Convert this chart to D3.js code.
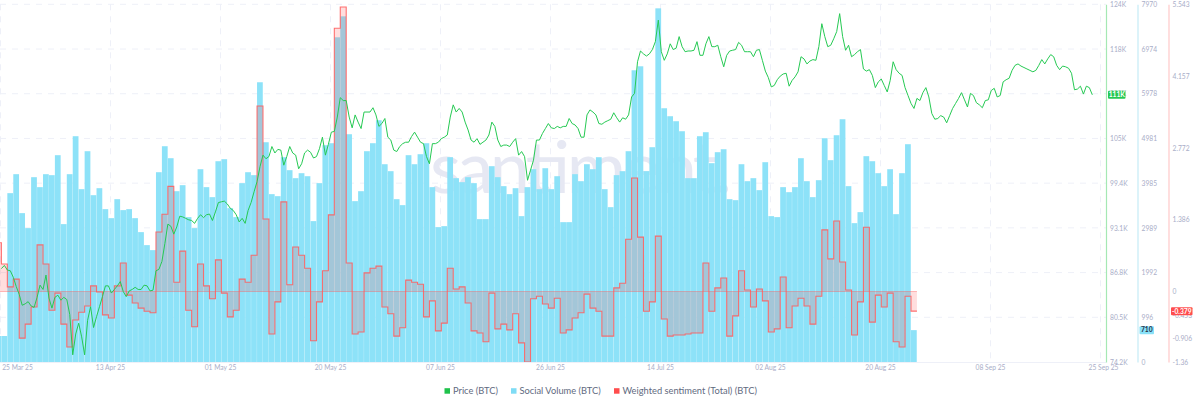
<!DOCTYPE html>
<html><head><meta charset="utf-8">
<script src="https://cdn.jsdelivr.net/npm/d3@7"></script>
<style>
html,body{margin:0;padding:0;background:#fff;overflow:hidden}
svg{display:block}
text{font-family:Lato,"Noto Sans",sans-serif}
</style></head><body>
<svg id="c" width="1200" height="406"></svg>
<script>
// Daily social volume; first element is the day before the left edge of the chart (index -1)
const socialVolume = [579,579,3762,4185,3317,2983,4118,3896,4185,4163,4608,3072,4185,5031,3851,4697,3717,3873,3406,3205,3628,3384,3406,3205,2894,2604,2493,4229,4808,4541,3806,3940,3228,2983,4296,3896,3673,4474,4519,3428,3228,3985,4229,4163,6233,4897,3740,3695,4563,4274,4096,4207,
4140,3139,3985,4830,4875,7235,7702,5075,3584,3806,4697,4875,5387,4407,4252,3628,3495,4608,4407,4630,4875,3896,3005,3027,4563,4096,4007,4118,3985,3183,3183,4363,4118,3918,3740,3873,3250,3896,4296,3851,4318,3851,4140,3116,3116,4185,4029,4407,4296,4563,
3851,3450,4163,4252,4697,6500,6589,4252,4786,7880,5654,5476,5365,5142,4096,4096,5031,5120,4430,4675,4741,3628,3606,4407,4029,4096,3829,4452,3250,3228,3896,3784,3896,4541,4029,3673,4051,4986,4497,5053,5409,3918,3094,3339,4586,4474,4207,3918,4296,3294,4207,4853,710];
// Daily weighted sentiment on the same days
const sentiment = [.94,.53,.09,.24,-.90,-.63,-.30,.90,.53,-.36,-.03,-.63,-1.07,-.55,-.40,-.28,.11,-.01,-.45,-.51,.11,.55,-.07,-.22,-.32,-.38,-.41,1.15,1.49,2.03,.18,.78,-.36,-.68,.53,.11,-.14,.61,-.03,-.49,-.36,.24,.18,.70,3.58,1.40,-.82,-.20,1.73,.13,.86,.70,
.45,-.95,-.20,.40,1.48,5.08,5.49,.55,-.82,-.78,.36,.45,.49,-.30,-.43,-.86,-.70,.22,.18,.14,-.49,-.18,-.76,-.61,.45,.05,.09,-.22,-.76,-.80,-.97,-.03,-.72,-.63,-.74,-.43,-.99,-1.36,-.14,-.09,-.24,-.32,-.13,-.80,-.74,-.51,-.41,-.05,-.32,-.38,
-.86,-.86,.07,.16,1.01,2.19,1.05,-.38,-.20,1.07,-.53,-.86,-.84,-.84,-.82,-.80,-.80,.55,-.38,.07,.26,-.86,-.47,.40,.03,-.30,.05,-.18,-.78,-.72,.28,-.70,-.28,-.13,-.28,-.63,-.09,1.19,.63,1.36,.57,.03,-.84,-.20,1.24,-.59,-.07,-.30,-.03,-.97,-1.07,-.09,-.379];
// Price in thousand USD, sampled twice a day
const price = [87.2,87.65,87.0,86.9,86.0,84.7,83.6,82.1,82.3,82.6,82.0,81.8,83.2,84.9,84.3,86.3,83.1,81.7,83.2,83.5,82.8,83.2,82.9,80.8,75.2,78.1,79.6,77.7,75.2,80.0,81.9,79.0,80.5,81.9,83.3,84.8,84.8,83.8,84.3,84.8,85.4,84.0,83.3,84.1,84.3,84.6,84.3,84.3,84.9,84.8,84.1,84.2,86.9,87.1,88.2,90.7,93.4,93.1,92.0,93.0,94.5,94.4,94.2,94.0,93.9,93.5,94.2,94.7,94.3,94.7,94.8,93.9,95.1,96.4,96.5,96.6,96.2,95.6,95.3,94.7,93.7,94.2,93.5,95.3,96.4,
97.9,99.3,101.4,103.0,102.5,102.8,104.2,103.3,103.8,103.7,101.6,102.8,104.2,103.3,103.0,
101.1,101.8,103.3,103.7,103.4,102.6,102.8,103.9,105.5,103.0,104.5,106.2,106.3,108.3,111.0,110.6,110.6,108.3,106.8,108.6,107.6,106.7,109.0,109.0,109.0,109.6,108.6,107.0,107.4,108.1,105.5,105.1,103.7,103.5,104.2,104.6,104.8,104.8,105.6,106.2,105.5,104.8,104.6,102.8,101.8,104.6,104.6,104.8,105.3,105.5,105.8,108.3,110.0,109.0,109.5,109.0,107.6,106.5,105.1,104.8,105.3,104.5,104.8,105.1,105.8,107.6,107.0,105.1,104.2,104.4,104.4,104.2,104.8,105.3,103.0,103.5,102.8,99.5,100.9,102.3,105.1,105.1,106.0,106.7,107.4,106.8,106.7,107.0,106.8,107.0,107.0,108.1,107.4,107.2,106.7,105.5,105.5,108.6,109.3,109.0,108.6,107.4,
107.3,107.6,107.8,108.0,108.9,108.2,107.6,108.2,108.0,108.6,111.1,111.6,116.0,117.5,117.1,116.8,117.1,117.7,118.8,121.8,117.4,116.2,117.1,118.5,117.7,117.9,119.5,118.1,117.4,117.5,117.5,117.6,118.8,116.9,116.9,118.5,119.5,118.1,118.1,118.3,116.7,115.3,116.9,117.5,117.6,117.7,118.7,118.3,117.4,117.4,117.4,116.7,117.6,117.7,116.2,114.7,113.8,112.5,112.7,113.5,114.0,114.3,114.4,112.6,113.4,113.9,114.6,116.7,116.4,115.7,116.1,116.3,116.2,118.1,121.3,119.5,118.1,118.3,119.2,120.2,122.7,119.5,117.6,118.3,116.7,117.0,117.4,117.7,115.0,114.7,114.9,114.1,112.4,113.2,113.6,112.7,111.8,113.4,116.0,114.9,114.4,
114.1,112.4,111.3,110.2,109.5,110.9,110.6,111.7,112.4,111.1,108.8,108.0,108.1,108.5,108.3,107.5,108.5,109.5,110.2,110.9,111.7,110.7,109.7,111.6,111.3,110.3,110.0,109.6,110.6,110.7,112.0,112.3,111.1,111.3,113.2,113.5,113.7,114.8,115.5,115.7,115.4,115.2,115.0,114.8,114.6,114.8,115.5,116.3,115.7,116.4,117.0,116.7,115.5,114.9,115.4,115.3,115.1,114.4,112.1,112.2,112.6,111.5,112.6,112.4,111.4];
const dateLabels = ["25 Mar 25","13 Apr 25","01 May 25","20 May 25","07 Jun 25","26 Jun 25","14 Jul 25","02 Aug 25","20 Aug 25","08 Sep 25","25 Sep 25"];
const priceTickLabels = ["74.2K","80.5K","86.8K","93.1K","99.4K","105K","111K","118K","124K"];
const volumeTicks = [0,996,1992,2989,3985,4981,5978,6974,7970];
const sentimentTicks = [-1.36,-0.906,-0.453,0,1.386,2.772,4.157,5.543];
const seriesNames = ["Price (BTC)","Social Volume (BTC)","Weighted sentiment (Total) (BTC)"];
const seriesColors = ["#26c953","#89e1f8","#ff5b5b"];
const lastPrice="111K", lastVolume=710, lastSentiment=-0.379;

const W=1106, TOP=4.3, BOT=362, TICKFONT=6.7;
const svg=d3.select("#c");
const xDay=d3.scaleLinear().domain([0,184]).range([1.4,1095.3]);
const xTick=d3.scalePoint().domain(dateLabels).range([0,1100]);
const yPrice=d3.scaleLinear().domain([74.2,124]).range([BOT,TOP]);
const yPriceTicks=d3.scalePoint().domain(priceTickLabels).range([BOT,TOP]);
const yVol=d3.scaleLinear().domain([0,7970]).range([BOT,TOP]);
const ySent=d3.scaleLinear().domain([-1.36,5.543]).range([BOT,TOP]);

svg.append("defs").append("clipPath").attr("id","plot").append("rect")
  .attr("x",0).attr("y",TOP-1).attr("width",W).attr("height",BOT-TOP+1);

// grid
const grid=svg.append("g").attr("stroke","#eef0f8").attr("stroke-width",1).attr("stroke-dasharray","6 6");
grid.selectAll("line.h").data(priceTickLabels.slice(1)).join("line").attr("class","h")
  .attr("x1",0).attr("x2",W).attr("y1",d=>yPriceTicks(d)).attr("y2",d=>yPriceTicks(d));
grid.selectAll("line.v").data(dateLabels).join("line").attr("class","v")
  .attr("x1",d=>xTick(d)+.5).attr("x2",d=>xTick(d)+.5).attr("y1",TOP).attr("y2",BOT);
svg.append("line").attr("x1",0).attr("x2",W).attr("y1",BOT+.5).attr("y2",BOT+.5).attr("stroke","#eef0f8");

// watermark
svg.append("text").text("santiment.").attr("x",430).attr("y",193).attr("font-size",72)
  .attr("textLength",302).attr("fill","#e6e8f3").style("font-family","Lato");

const plot=svg.append("g").attr("clip-path","url(#plot)");
// bars
plot.append("g").selectAll("rect").data(socialVolume).join("rect")
  .attr("x",(d,i)=>xDay(i-1)).attr("width",xDay(1)-xDay(0)-.2)
  .attr("y",d=>yVol(d)).attr("height",d=>BOT-yVol(d))
  .attr("fill",seriesColors[1]).attr("fill-opacity",.97);

// sentiment
const sPts=sentiment.map((v,i)=>[i-1,v]); sPts.push([sentiment.length-1,sentiment[sentiment.length-1]]);
plot.append("path").attr("d",d3.area().curve(d3.curveStepAfter).x(d=>xDay(d[0])).y0(ySent(0)).y1(d=>ySent(d[1]))(sPts))
  .attr("fill",seriesColors[2]).attr("fill-opacity",.2);
plot.append("line").attr("x1",0).attr("x2",xDay(sentiment.length-1)).attr("y1",ySent(0)).attr("y2",ySent(0))
  .attr("stroke",seriesColors[2]).attr("stroke-opacity",.4).attr("stroke-width",1);
plot.append("path").attr("d",d3.line().curve(d3.curveStepAfter).x(d=>xDay(d[0])).y(d=>ySent(d[1]))(sPts))
  .attr("fill","none").attr("stroke",seriesColors[2]).attr("stroke-opacity",.85).attr("stroke-width",1.1);

// price
plot.append("path").attr("d",d3.line().x((d,i)=>xDay(i/2)).y(d=>yPrice(d))(price))
  .attr("fill","none").attr("stroke",seriesColors[0]).attr("stroke-width",1).attr("stroke-linejoin","round");

// axes
function style(g,col,x){
  g.select(".domain").attr("stroke",col).attr("stroke-width",1.2);
  g.selectAll(".tick line").remove();
  g.selectAll(".tick text").attr("fill","#a9aec8").attr("font-size",TICKFONT).attr("x",x).style("font-family","Lato");
}
const gx=svg.append("g").attr("transform",`translate(0,${BOT})`)
  .call(d3.axisBottom(xTick).tickSize(0));
gx.select(".domain").remove();
gx.selectAll(".tick text").attr("y",3.5).attr("dy",".71em").attr("fill","#a9aec8").attr("font-size",TICKFONT);
gx.selectAll(".tick").filter(d=>d===dateLabels[0]).select("text").attr("dx",17);
gx.selectAll(".tick").filter(d=>d===dateLabels[10]).select("text").attr("dx",3);

svg.append("g").attr("transform",`translate(${W},0)`).call(d3.axisRight(yPriceTicks).tickSizeOuter(0).tickSize(0))
  .call(g=>style(g,"#a5e8b4",4));
svg.append("g").attr("transform",`translate(1137.5,0)`).call(d3.axisRight(yVol).tickValues(volumeTicks).tickFormat(d3.format("d")).tickSize(0))
  .call(g=>style(g,"#c5ebf6",4));
svg.append("g").attr("transform",`translate(1168.5,0)`).call(d3.axisRight(ySent).tickValues(sentimentTicks).tickFormat(d=>d===0?"0":String(d)).tickSize(0))
  .call(g=>style(g,"#ffc9c9",4));

// value badges
function badge(x,y,w,h,fill,txt,col){
  svg.append("rect").attr("x",x).attr("y",y-h/2).attr("width",w).attr("height",h).attr("rx",1).attr("fill",fill);
  svg.append("text").attr("x",x+w/2).attr("y",y).attr("dy",".35em").attr("text-anchor","middle")
    .attr("font-size",TICKFONT).attr("font-weight",700).attr("fill",col).text(txt);
}
badge(1108,yPrice(price[price.length-1]),17.5,8,seriesColors[0],lastPrice,"#fff");
badge(1139.5,yVol(lastVolume),14.5,8,seriesColors[1],lastVolume,"#25324a");
badge(1171,ySent(lastSentiment),21.5,8,"#ff4d4d",lastSentiment,"#fff");

// legend
const legendX=[444.5,511,614];
const lg=svg.append("g").selectAll("g").data(seriesNames).join("g")
  .attr("transform",(d,i)=>`translate(${legendX[i]},391)`);
lg.append("rect").attr("x",0).attr("y",-2.8).attr("width",5.5).attr("height",5.5).attr("fill",(d,i)=>i==2?"#ff4d4d":(i==1?"#7fdcf5":"#1fc24b"));
lg.append("text").attr("x",8.5).attr("y",0).attr("dy",".35em").attr("font-size",9.3).attr("fill","#5f6a80").text(d=>d);
</script>
</body></html>
